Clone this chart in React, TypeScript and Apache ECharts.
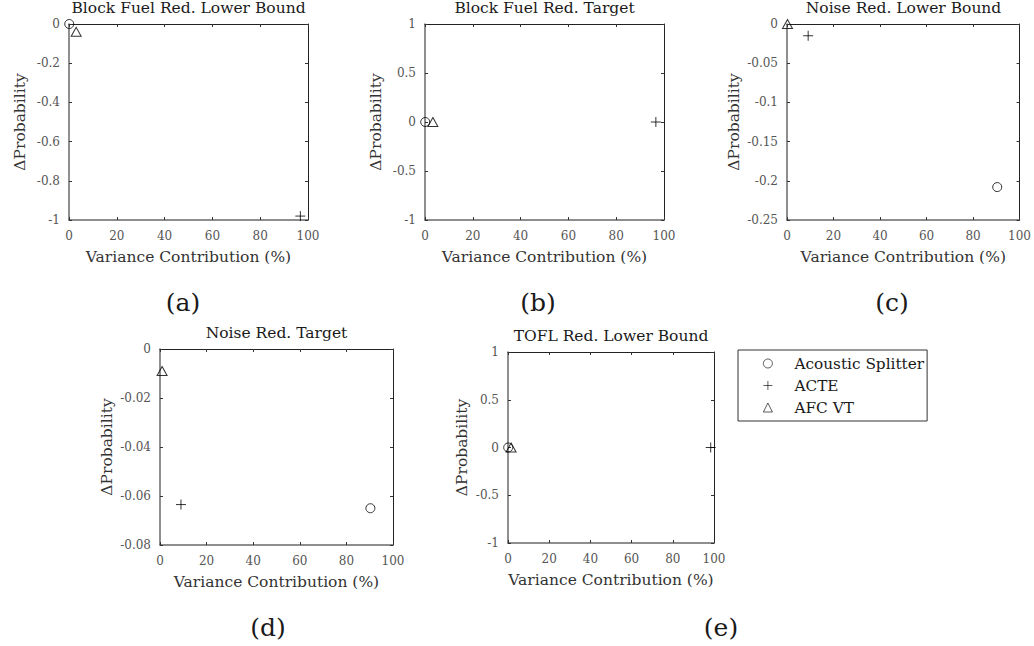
import React, { useEffect, useRef } from "react";
import * as echarts from "echarts";

// Panel titles and captions
const PANEL_TITLES = [
  "Block Fuel Red. Lower Bound",
  "Block Fuel Red. Target",
  "Noise Red. Lower Bound",
  "Noise Red. Target",
  "TOFL Red. Lower Bound",
];
const PANEL_CAPTIONS = ["(a)", "(b)", "(c)", "(d)", "(e)"];
const SERIES_NAMES = ["Acoustic Splitter", "ACTE", "AFC VT"];

// Variance contribution (%) and change in probability, one entry per panel
const splitterX = [0.1, 0.1, 90.4, 90.3, 0.1];
const splitterY = [0, 0, -0.208, -0.065, 0];
const acteX = [96.8, 96.6, 9.1, 9.0, 98.4];
const acteY = [-0.98, 0, -0.015, -0.0635, 0];
const afcX = [3.0, 3.3, 0.2, 0.9, 1.5];
const afcY = [-0.04, 0, 0, -0.009, 0];

// Y-axis ranges per panel
const yMin = [-1, -1, -0.25, -0.08, -1];
const yMax = [0, 1, 0, 0, 1];
const yStep = [0.2, 0.5, 0.05, 0.02, 0.5];
const xMin = 0;
const xMax = 100;
const xStep = 20;

// Panel placement in pixels
const PANELS = [
  { left: 69, top: 24, width: 239, height: 196, yGap: 41, capX: 183, capY: 302 },
  { left: 425, top: 24, width: 239, height: 196, yGap: 41, capX: 538, capY: 302 },
  { left: 787, top: 24, width: 233, height: 196, yGap: 45, capX: 892, capY: 302 },
  { left: 160, top: 349, width: 233, height: 196, yGap: 45, capX: 268, capY: 627 },
  { left: 508, top: 352, width: 206, height: 191, yGap: 38, capX: 721, capY: 627 },
];

const FONT = "DejaVu Serif";
const PLUS_PATH = "path://M0,5L10,5M5,0L5,10";

export default function App() {
  const ref = useRef<HTMLDivElement>(null);

  useEffect(() => {
    if (!ref.current) return;
    const chart = echarts.init(ref.current, undefined, { renderer: "svg" });

    const grids: any[] = [];
    const xAxes: any[] = [];
    const yAxes: any[] = [];
    const titles: any[] = [];
    const series: any[] = [];
    const graphics: any[] = [];

    const tickLabel = { color: "#555555", fontFamily: FONT, fontSize: 12 };
    const nameStyle = { color: "#333333", fontFamily: FONT, fontSize: 15.5 };
    const tick = { show: true, inside: true, length: 3, lineStyle: { color: "#333333" } };

    PANELS.forEach((p, i) => {
      grids.push({ left: p.left, top: p.top, width: p.width, height: p.height, containLabel: false });

      // bottom / top x axes
      xAxes.push({
        type: "value",
        gridIndex: i,
        position: "bottom",
        min: xMin,
        max: xMax,
        interval: xStep,
        name: "Variance Contribution (%)",
        nameLocation: "middle",
        nameGap: 29,
        nameTextStyle: nameStyle,
        axisLine: { show: true, onZero: false, lineStyle: { color: "#6a6a6a", width: 1.5 } },
        axisTick: tick,
        axisLabel: { ...tickLabel, margin: 10 },
        splitLine: { show: false },
      });
      xAxes.push({
        type: "value",
        gridIndex: i,
        position: "top",
        min: xMin,
        max: xMax,
        interval: xStep,
        axisLine: { show: true, onZero: false, lineStyle: { color: "#222222", width: 1 } },
        axisTick: tick,
        axisLabel: { show: false },
        splitLine: { show: false },
      });

      // left / right y axes
      yAxes.push({
        type: "value",
        gridIndex: i,
        position: "left",
        min: yMin[i],
        max: yMax[i],
        interval: yStep[i],
        name: "ΔProbability",
        nameLocation: "middle",
        nameRotate: 90,
        nameGap: p.yGap,
        nameTextStyle: nameStyle,
        axisLine: { show: true, onZero: false, lineStyle: { color: "#6a6a6a", width: 1.5 } },
        axisTick: tick,
        axisLabel: { ...tickLabel, margin: 9 },
        splitLine: { show: false },
      });
      yAxes.push({
        type: "value",
        gridIndex: i,
        position: "right",
        min: yMin[i],
        max: yMax[i],
        interval: yStep[i],
        axisLine: { show: true, onZero: false, lineStyle: { color: "#222222", width: 1 } },
        axisTick: tick,
        axisLabel: { show: false },
        splitLine: { show: false },
      });

      titles.push({
        text: PANEL_TITLES[i],
        left: p.left + p.width / 2,
        top: p.top - 24,
        textAlign: "center",
        padding: 0,
        textStyle: { color: "#1a1a1a", fontFamily: FONT, fontSize: 15.5, fontWeight: "normal" },
      });

      graphics.push({
        type: "text",
        x: p.capX,
        y: p.capY,
        style: {
          text: PANEL_CAPTIONS[i],
          fill: "#1a1a1a",
          font: `25px ${FONT}`,
          textAlign: "center",
          textVerticalAlign: "middle",
        },
      });

      const common = {
        type: "scatter",
        xAxisIndex: 2 * i,
        yAxisIndex: 2 * i,
        clip: false,
        itemStyle: { color: "transparent", borderColor: "#000000", borderWidth: 1 },
        emphasis: { disabled: true },
      };
      series.push({
        ...common,
        name: SERIES_NAMES[0],
        symbol: "circle",
        symbolSize: 9,
        data: [[splitterX[i], splitterY[i]]],
      });
      series.push({
        ...common,
        name: SERIES_NAMES[1],
        symbol: PLUS_PATH,
        symbolSize: 10,
        data: [[acteX[i], acteY[i]]],
      });
      series.push({
        ...common,
        name: SERIES_NAMES[2],
        symbol: "triangle",
        symbolSize: [10, 9],
        data: [[afcX[i], afcY[i]]],
      });
    });

    chart.setOption({
      animation: false,
      backgroundColor: "#ffffff",
      title: titles,
      grid: grids,
      xAxis: xAxes,
      yAxis: yAxes,
      series,
      graphic: graphics,
      legend: {
        data: SERIES_NAMES,
        orient: "vertical",
        left: 738,
        top: 350,
        padding: [5, 3, 5, 25],
        itemWidth: 9,
        itemHeight: 9,
        itemGap: 5,
        borderColor: "#333333",
        borderWidth: 1,
        selectedMode: false,
        itemStyle: { borderWidth: 0.8 },
        textStyle: {
          color: "#1a1a1a",
          fontFamily: FONT,
          fontSize: 15.3,
          lineHeight: 17,
          padding: [0, 0, 0, 17],
        },
      },
    });

    return () => chart.dispose();
  }, []);

  return (
    <div
      ref={ref}
      style={{ position: "fixed", left: 0, top: 0, width: 1034, height: 646, background: "#fff" }}
    />
  );
}
